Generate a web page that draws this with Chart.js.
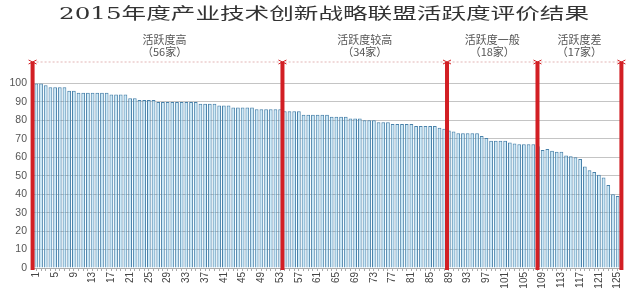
<!DOCTYPE html>
<html>
<head>
<meta charset="utf-8">
<script src="https://cdn.jsdelivr.net/npm/chart.js@4"></script>
<style>
html,body{margin:0;padding:0;background:#fff}
#box{width:640px;height:297px;position:relative}
</style>
</head>
<body>
<div id="box"><canvas id="myChart"></canvas></div>
<script>
const titleText='2015年度产业技术创新战略联盟活跃度评价结果'
const barCount=125
const categories=Array.from({length:barCount},(_,i)=>String(i+1))
const scores=[100,100,99,98,98,98,98,96,96,95,95,95,95,95,95,95,94,94,94,94,92,92,91,91,91,91,90,90,90,90,90,90,90,90,90,89,89,89,89,88,88,88,87,87,87,87,87,86,86,86,86,86,86,
85,85,85,85,83,83,83,83,83,83,82,82,82,82,81,81,81,80,80,80,79,79,79,78,78,78,78,78,77,77,77,77,77,76,75.5,74.5,
74,73,73,73,73,73,71.5,70.5,69,69,69,69,68,67.5,67,67,67,67,66,
64,64.5,63.5,63,63,61,60.5,60,59,55,53,52,50.5,49,45,40,39]
const yTicks=[0,10,20,30,40,50,60,70,80,90,100]
const groupNames=['活跃度高','活跃度较高','活跃度一般','活跃度差']
const groupCounts=['（56家）','（34家）','（18家）','（17家）']
// red divider lines, in bar numbers (can sit between bars)
const dividers=[0.2,53.5,88.6,107.9,125.8]

function drawStretched(ctx,text,cx,cy,width){
    const w=ctx.measureText(text).width
    ctx.save()
    ctx.translate(cx,cy)
    ctx.scale(width/w,1)
    ctx.fillText(text,0,0)
    ctx.restore()
}

const dividerPlugin={
    id:'dividers',
    afterDatasetsDraw(chart){
        const ctx=chart.ctx
        const xs=chart.scales.x
        const area=chart.chartArea
        const px=dividers.map(d=>xs.getPixelForValue(d-1))
        const top=area.top-3
        ctx.save()
        // faint dotted line across the top
        ctx.strokeStyle='rgba(200,110,110,0.5)'
        ctx.lineWidth=1
        ctx.setLineDash([2,2])
        ctx.beginPath()
        ctx.moveTo(px[0],top)
        ctx.lineTo(px[px.length-1],top)
        ctx.stroke()
        ctx.setLineDash([])
        ctx.strokeStyle='#d21f24'
        ctx.lineWidth=4
        px.forEach(x=>{
            ctx.beginPath()
            ctx.moveTo(x,top)
            ctx.lineTo(x,area.bottom+2)
            ctx.stroke()
        })
        // little star marks at the top
        ctx.lineWidth=1
        px.forEach(x=>{
            ctx.beginPath()
            ctx.moveTo(x-4,top-2);ctx.lineTo(x+4,top+2)
            ctx.moveTo(x-4,top+2);ctx.lineTo(x+4,top-2)
            ctx.stroke()
        })
        ctx.restore()
    },
    afterDraw(chart){
        const ctx=chart.ctx
        const xs=chart.scales.x
        const px=dividers.map(d=>xs.getPixelForValue(d-1))
        ctx.save()
        ctx.fillStyle='#333'
        ctx.textAlign='center'
        ctx.textBaseline='middle'
        ctx.font='16px "DejaVu Serif","Noto Sans CJK SC"'
        drawStretched(ctx,titleText,324,15,530)
        ctx.fillStyle='#555'
        ctx.font='11px "Noto Sans CJK SC"'
        groupNames.forEach((g,i)=>{
            const cx=(px[i]+px[i+1])/2+(i===0?7:0)
            ctx.fillText(g,cx,40)
            ctx.fillText(groupCounts[i],cx,52)
        })
        ctx.restore()
    }
}

function loadChart(){
    const ctx=document.getElementById('myChart')
    new Chart(ctx,{
        type:'bar',
        data:{
            labels:categories,
            datasets:[{
                data:scores,
                backgroundColor:'rgba(175,222,245,0.6)',
                borderColor:'#4a82aa',
                borderWidth:1,
                barPercentage:0.8,
                categoryPercentage:1
            }]
        },
        options:{
            responsive:true,
            maintainAspectRatio:false,
            animation:false,
            layout:{padding:{top:65,left:0,right:20,bottom:0}},
            plugins:{legend:{display:false},tooltip:{enabled:false}},
            scales:{
                x:{
                    afterFit(s){s.height=29},
                    border:{color:'#aaa'},
                    grid:{display:true,drawOnChartArea:false,tickLength:3,color:'#aaa',offset:false},
                    ticks:{
                        autoSkip:false,
                        minRotation:90,
                        maxRotation:90,
                        padding:1,
                        color:'#444',
                        font:{size:10,family:'"Liberation Sans"'},
                        callback:(v,i)=>i%4===0?categories[i]:''
                    }
                },
                y:{
                    min:0,
                    max:110,
                    afterFit(s){s.width=34},
                    afterBuildTicks(s){s.ticks=yTicks.concat([110]).map(v=>({value:v}))},
                    border:{display:false},
                    grid:{
                        color:c=>c.tick.value>100?'rgba(0,0,0,0)':'#c4c4c4',
                        drawTicks:false
                    },
                    ticks:{
                        padding:7,
                        color:'#555',
                        font:{size:10.5,family:'"Liberation Sans"'},
                        callback:v=>v>100?'':v
                    }
                }
            }
        },
        plugins:[dividerPlugin]
    })
}

loadChart()
</script>
</body>
</html>
